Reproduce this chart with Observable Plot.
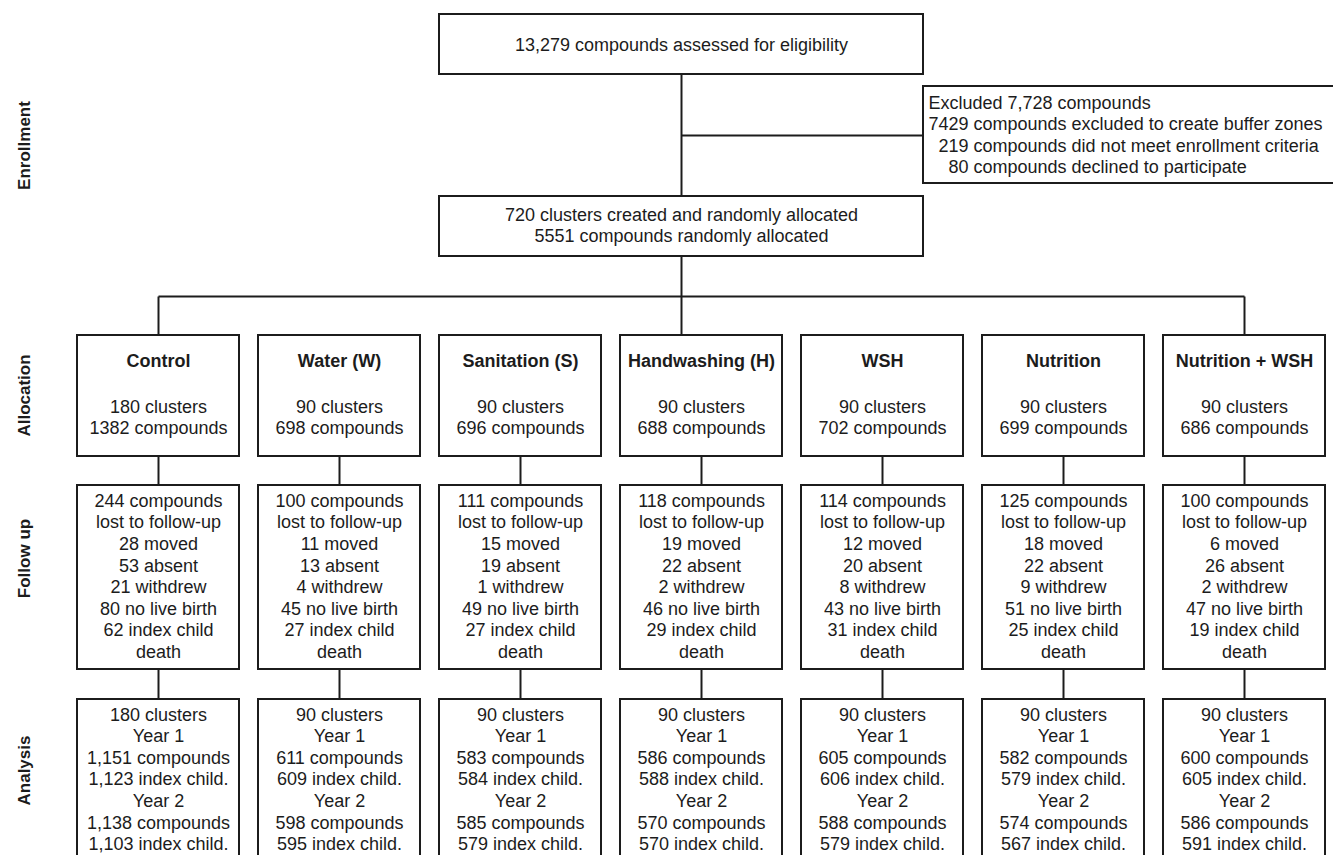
<!DOCTYPE html>
<html>
<head>
<meta charset="utf-8">
<script src="https://cdn.jsdelivr.net/npm/d3@7"></script>
<script src="https://cdn.jsdelivr.net/npm/@observablehq/plot@0.6"></script>
<style>
  html, body { margin: 0; padding: 0; background: #fff; overflow: hidden; }
  #chart svg { display: block; }
</style>
</head>
<body>
<div id="chart"></div>
<script>
// ---------- data ----------
const stages = ["Enrollment", "Allocation", "Follow up", "Analysis"];

const assessed = 13279;
const excludedTotal = 7728;
const excludedBuffer = 7429;
const excludedCriteria = 219;
const excludedDeclined = 80;
const clustersCreated = 720;
const compoundsRandomized = 5551;

const arms = ["Control", "Water (W)", "Sanitation (S)", "Handwashing (H)", "WSH", "Nutrition", "Nutrition + WSH"];
const allocClusters   = [180, 90, 90, 90, 90, 90, 90];
const allocCompounds  = [1382, 698, 696, 688, 702, 699, 686];
const lostCompounds   = [244, 100, 111, 118, 114, 125, 100];
const moved           = [28, 11, 15, 19, 12, 18, 6];
const absent          = [53, 13, 19, 22, 20, 22, 26];
const withdrew        = [21, 4, 1, 2, 8, 9, 2];
const noLiveBirth     = [80, 45, 49, 46, 43, 51, 47];
const childDeath      = [62, 27, 27, 29, 31, 25, 19];
const analysisClusters = [180, 90, 90, 90, 90, 90, 90];
const y1Compounds     = [1151, 611, 583, 586, 605, 582, 600];
const y1Children      = [1123, 609, 584, 588, 606, 579, 605];
const y2Compounds     = [1138, 598, 585, 570, 588, 574, 586];
const y2Children      = [1103, 595, 579, 570, 579, 567, 591];

// ---------- layout (code, not data) ----------
const W = 1333, H = 855;
const fmt = d3.format(",");
const colX = i => 158 + 181 * i;
const half = 81;
const mainX = 681;
const ink = "#1c1c1c";
const font = "Liberation Sans, Arial, Helvetica, sans-serif";

const boxes = [
  {x1: 439, x2: 923, y1: 14, y2: 74},
  {x1: 923, x2: 1345, y1: 86, y2: 183},
  {x1: 439, x2: 923, y1: 196, y2: 256}
];
arms.forEach((a, i) => {
  const cx = colX(i);
  boxes.push({x1: cx - half, x2: cx + half, y1: 335, y2: 456});
  boxes.push({x1: cx - half, x2: cx + half, y1: 485, y2: 669});
  boxes.push({x1: cx - half, x2: cx + half, y1: 699, y2: 880});
});

const links = [
  {x1: mainX, y1: 74, x2: mainX, y2: 196},
  {x1: mainX, y1: 135, x2: 923, y2: 135},
  {x1: mainX, y1: 256, x2: mainX, y2: 335},
  {x1: colX(0), y1: 296, x2: colX(arms.length - 1), y2: 296},
  {x1: colX(0), y1: 296, x2: colX(0), y2: 335},
  {x1: colX(arms.length - 1), y1: 296, x2: colX(arms.length - 1), y2: 335}
];
arms.forEach((a, i) => {
  const cx = colX(i);
  links.push({x1: cx, y1: 456, x2: cx, y2: 485});
  links.push({x1: cx, y1: 669, x2: cx, y2: 699});
});

const nb = n => "\u00a0".repeat(n);
const exclusionText = [
  `Excluded ${fmt(excludedTotal)} compounds`,
  `${excludedBuffer} compounds excluded to create buffer zones`,
  `${nb(2)}${excludedCriteria} compounds did not meet enrollment criteria`,
  `${nb(4)}${excludedDeclined} compounds declined to participate`
].join("\n");

const armRows = arms.map((a, i) => ({
  x: colX(i),
  title: a,
  alloc: `${allocClusters[i]} clusters\n${allocCompounds[i]} compounds`,
  follow: [
    `${lostCompounds[i]} compounds`,
    `lost to follow-up`,
    `${moved[i]} moved`,
    `${absent[i]} absent`,
    `${withdrew[i]} withdrew`,
    `${noLiveBirth[i]} no live birth`,
    `${childDeath[i]} index child`,
    `death`
  ].join("\n"),
  analysis: [
    `${analysisClusters[i]} clusters`,
    `Year 1`,
    `${fmt(y1Compounds[i])} compounds`,
    `${fmt(y1Children[i])} index child.`,
    `Year 2`,
    `${fmt(y2Compounds[i])} compounds`,
    `${fmt(y2Children[i])} index child.`
  ].join("\n")
}));

const stageY = [145, 395, 558, 770];
const stageRows = stages.map((s, i) => ({label: s, x: 24, y: stageY[i]}));

const topTexts = [
  {x: mainX, y: 44, t: `${fmt(assessed)} compounds assessed for eligibility`},
  {x: mainX, y: 224, t: `${clustersCreated} clusters created and randomly allocated\n${compoundsRandomized} compounds randomly allocated`}
];

const chart = Plot.plot({
  width: W,
  height: H,
  margin: 0,
  x: {domain: [0, W], range: [0, W], axis: null},
  y: {domain: [0, H], range: [0, H], axis: null},
  style: {fontFamily: font, background: "#fff", color: ink},
  marks: [
    Plot.link(links, {x1: "x1", y1: "y1", x2: "x2", y2: "y2", stroke: ink, strokeWidth: 2}),
    Plot.rect(boxes, {x1: "x1", x2: "x2", y1: "y1", y2: "y2", fill: "#fff", stroke: ink, strokeWidth: 2}),
    Plot.text(topTexts, {x: "x", y: "y", text: "t", fontSize: 18, lineHeight: 1.18, fill: ink}),
    Plot.text([exclusionText], {x: () => 928, y: () => 133.5, text: d => d, textAnchor: "start", fontSize: 18, lineHeight: 1.2, fill: ink}),
    Plot.text(armRows, {x: "x", y: () => 361, text: "title", fontSize: 18, fontWeight: "bold", fill: ink}),
    Plot.text(armRows, {x: "x", y: () => 416, text: "alloc", fontSize: 18, lineHeight: 1.2, fill: ink}),
    Plot.text(armRows, {x: "x", y: () => 575, text: "follow", fontSize: 18, lineHeight: 1.2, fill: ink}),
    Plot.text(armRows, {x: "x", y: () => 778, text: "analysis", fontSize: 18, lineHeight: 1.2, fill: ink}),
    Plot.text(stageRows, {x: "x", y: "y", text: "label", rotate: -90, fontSize: 17, fontWeight: "bold", fill: ink})
  ]
});
document.getElementById("chart").appendChild(chart);
</script>
</body>
</html>
